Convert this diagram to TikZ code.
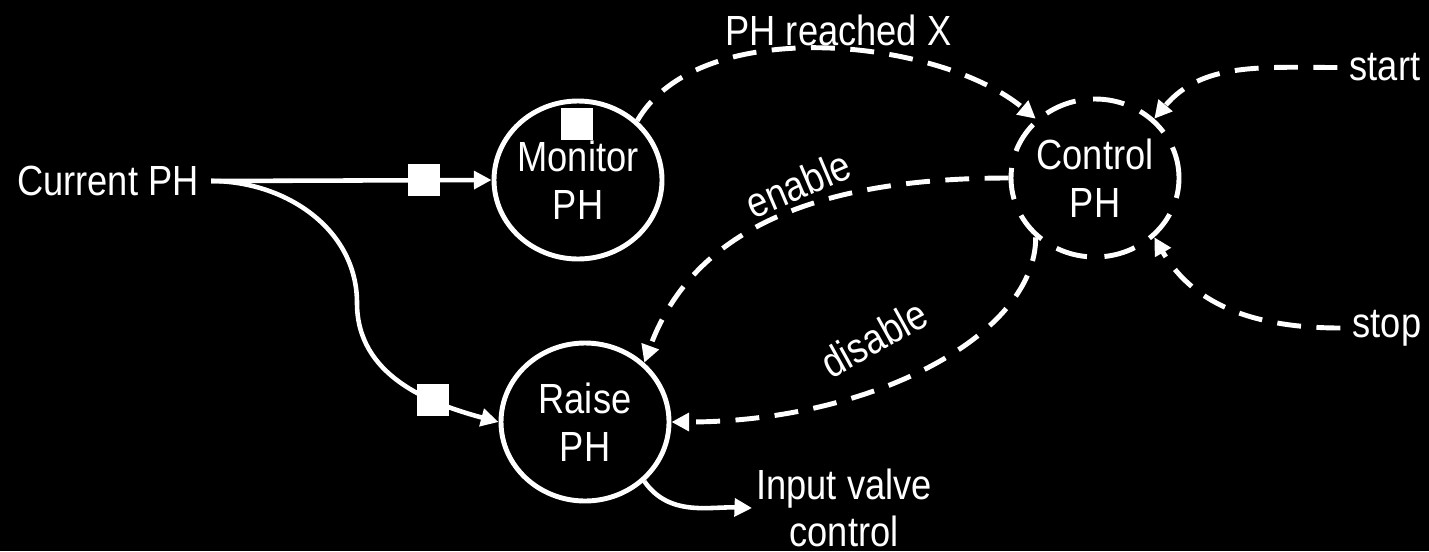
\documentclass[tikz,border=0pt]{standalone}
\usepackage{fontspec}
\setmainfont[FakeStretch=0.86]{Liberation Sans}
\usetikzlibrary{arrows.meta,shapes.geometric}

\begin{document}
\begin{tikzpicture}[
  every node/.style={text=white,font=\fontsize{12}{13.6}\selectfont},
  proc/.style={ellipse,draw=white,line width=1.4pt,minimum width=1.68cm,
    minimum height=1.58cm,inner xsep=-2mm,align=center},
  ctl/.style={proc,dash pattern=on 9pt off 5pt},
  sqbox/.style={fill=white,minimum size=0.32cm,inner sep=0pt},
  flow/.style={draw=white,line width=1.3pt,-{Triangle[length=5pt,width=5pt]}},
  sig/.style={flow,line width=1.4pt,dash pattern=on 6.8pt off 4.4pt}
]
  \fill[black] (0,0) rectangle (14.29,-5.51);
  \useasboundingbox (0,0) rectangle (14.29,-5.51);

  \node (cur) at (1.08,-1.81) {Current PH};
  \node[proc] (mon) at (5.78,-1.80) {Monitor\\PH};
  \node[proc] (raise) at (5.85,-4.22) {Raise\\PH};
  \node[ctl] (ctrl) at (10.95,-1.78) {Control\\PH};
  \node (start) at (13.85,-0.675) {start};
  \node (stop) at (13.87,-3.28) {stop};
  \node[align=center,inner sep=1pt] (inv) at (8.44,-5.08) {Input valve\\control};
  \node[sqbox] (monsq) at (5.77,-1.24) {};
  \node[rotate=23] (en) at (7.98,-1.84) {enable};
  \node[rotate=29] (dis) at (8.74,-3.38) {disable};
  \coordinate (bend) at (3.57,-3.03);

  \draw[flow] (cur.east) -- node[sqbox,pos=0.76] (sqa) {} (mon.west);
  \draw[flow] (cur.east) to[out=0,in=90] (bend)
    to[out=-90,in=165] node[sqbox,pos=0.68] (sqb) {} (raise.west);
  \draw[flow] (raise.-45) to[out=-55,in=178] (inv.west);

  \draw[sig] (mon.45) to[out=60,in=140,looseness=0.8]
    node[pos=0.53,above=-3pt] (reach) {PH reached X} (ctrl.135);
  \draw[sig] (start.west) to[out=180,in=50] (ctrl.45);
  \draw[sig] (stop.west) to[out=180,in=-60] (ctrl.-45);
  \draw[sig] (ctrl.west) to[out=180,in=70] (raise.45);
  \draw[sig] (ctrl.225) to[out=-90,in=0,out looseness=0.62,in looseness=1.24] (raise.east);
\end{tikzpicture}
\end{document}
